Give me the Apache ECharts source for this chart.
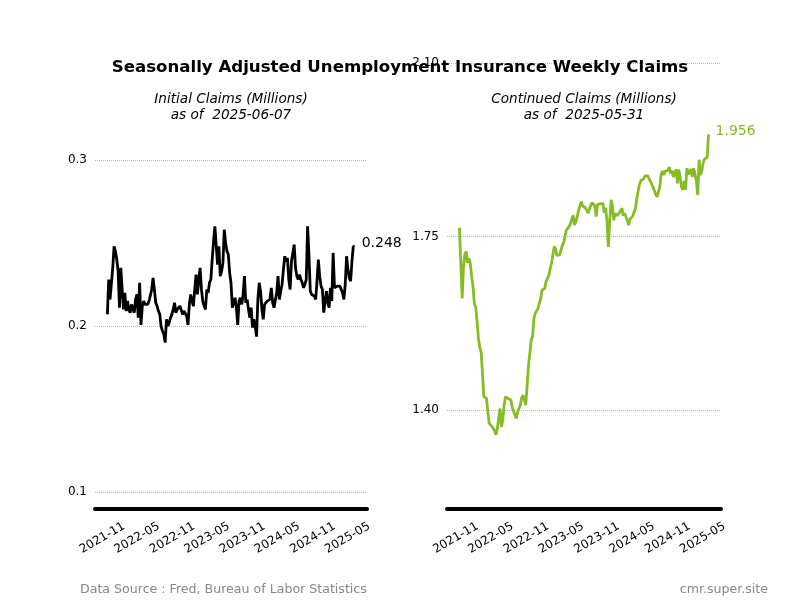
<!DOCTYPE html>
<html>
<head>
<meta charset="utf-8">
<script src="https://cdn.jsdelivr.net/npm/echarts@6/dist/echarts.min.js"></script>
<style>
    html, body { margin: 0; padding: 0; background: #fff; }
    #chart { width: 800px; height: 600px; }
</style>
</head>
<body>
<div id="chart"></div>
<script>
// weekly series
const initStart = '2021-11-27';   // last week 2025-06-07
const contStart = '2021-11-20';   // last week 2025-05-31

const initClaims = [
    0.207, 0.228, 0.216, 0.217, 0.235, 0.248, 0.245, 0.240, 0.233, 0.211,
    0.235, 0.222, 0.210, 0.220, 0.209, 0.215, 0.210, 0.208, 0.213, 0.212,
    0.208, 0.216, 0.219, 0.205, 0.226, 0.2006, 0.212, 0.215, 0.213, 0.214,
    0.213, 0.215, 0.214, 0.222, 0.229, 0.222, 0.214, 0.212, 0.209, 0.207,
    0.1996, 0.197, 0.195, 0.190, 0.204, 0.200, 0.202, 0.205, 0.207, 0.210,
    0.214, 0.208, 0.210, 0.211, 0.212, 0.213, 0.207, 0.209, 0.208, 0.206,
    0.2006, 0.213, 0.219, 0.215, 0.212, 0.222, 0.231, 0.219, 0.228, 0.235,
    0.222, 0.215, 0.212, 0.210, 0.222, 0.220, 0.226, 0.228, 0.240, 0.251,
    0.260, 0.259, 0.237, 0.248, 0.230, 0.233, 0.238, 0.258, 0.250, 0.245,
    0.243, 0.232, 0.226, 0.211, 0.214, 0.217, 0.211, 0.2006, 0.215, 0.217,
    0.213, 0.219, 0.230, 0.214, 0.216, 0.210, 0.205, 0.211, 0.199, 0.204,
    0.200, 0.1936, 0.216, 0.226, 0.221, 0.210, 0.204, 0.213, 0.214, 0.215,
    0.215, 0.216, 0.223, 0.214, 0.211, 0.210, 0.220, 0.230, 0.216, 0.221,
    0.225, 0.234, 0.242, 0.239, 0.241, 0.228, 0.222, 0.239, 0.244, 0.249,
    0.235, 0.230, 0.228, 0.231, 0.228, 0.226, 0.223, 0.225, 0.228, 0.260,
    0.243, 0.221, 0.219, 0.220, 0.218, 0.216, 0.227, 0.240, 0.230, 0.224,
    0.222, 0.208, 0.207, 0.221, 0.214, 0.211, 0.223, 0.215, 0.244, 0.223,
    0.224, 0.224, 0.225, 0.224, 0.223, 0.220, 0.216, 0.225, 0.242, 0.234,
    0.229, 0.227, 0.239, 0.248, 0.248
];

const contClaims = [
    1.768, 1.770, 1.625, 1.689, 1.715, 1.720, 1.697, 1.706, 1.695, 1.670,
    1.650, 1.615, 1.608, 1.580, 1.545, 1.526, 1.518, 1.474, 1.427, 1.425,
    1.423, 1.395, 1.373, 1.372, 1.367, 1.364, 1.358, 1.350, 1.363, 1.360,
    1.403, 1.366, 1.380, 1.410, 1.427, 1.426, 1.423, 1.423, 1.420, 1.405,
    1.401, 1.390, 1.383, 1.397, 1.401, 1.410, 1.425, 1.430, 1.427, 1.410,
    1.450, 1.490, 1.515, 1.541, 1.548, 1.585, 1.595, 1.594, 1.605, 1.602,
    1.625, 1.642, 1.641, 1.645, 1.659, 1.662, 1.672, 1.685, 1.696, 1.694,
    1.730, 1.725, 1.712, 1.710, 1.713, 1.716, 1.732, 1.738, 1.740, 1.763,
    1.760, 1.770, 1.776, 1.778, 1.793, 1.773, 1.780, 1.790, 1.803, 1.807,
    1.820, 1.812, 1.810, 1.808, 1.805, 1.797, 1.805, 1.813, 1.818, 1.818,
    1.812, 1.790, 1.815, 1.819, 1.816, 1.814, 1.817, 1.798, 1.808, 1.780,
    1.729, 1.780, 1.824, 1.812, 1.783, 1.797, 1.792, 1.790, 1.797, 1.793,
    1.807, 1.792, 1.797, 1.795, 1.783, 1.773, 1.785, 1.789, 1.791, 1.795,
    1.807, 1.826, 1.842, 1.855, 1.863, 1.861, 1.866, 1.872, 1.874, 1.873,
    1.867, 1.864, 1.856, 1.849, 1.843, 1.835, 1.830, 1.829, 1.850, 1.876,
    1.882, 1.874, 1.882, 1.880, 1.883, 1.890, 1.877, 1.883, 1.870, 1.868,
    1.886, 1.857, 1.885, 1.870, 1.850, 1.844, 1.862, 1.844, 1.888, 1.875,
    1.878, 1.886, 1.870, 1.888, 1.875, 1.862, 1.834, 1.905, 1.874, 1.882,
    1.898, 1.906, 1.908, 1.910, 1.956
];

const xTickLabels = ['2021-11', '2022-05', '2022-11', '2023-05', '2023-11', '2024-05', '2024-11', '2025-05'];
const initYTicks = [0.1, 0.2, 0.3];
const contYTicks = [1.40, 1.75, 2.10];

const FONT = 'DejaVu Sans';
const DAY = 864e5;

function utc(s) {
    const p = s.split('-').map(Number);
    return Date.UTC(p[0], p[1] - 1, p[2] || 1);
}
function weekly(start, vals) {
    const t0 = utc(start);
    return vals.map((v, i) => [t0 + i * 7 * DAY, v]);
}
function fmtMonth(t) {
    const d = new Date(t);
    const m = d.getUTCMonth() + 1;
    return d.getUTCFullYear() + '-' + (m < 10 ? '0' + m : m);
}

const initData = weekly(initStart, initClaims);
const contData = weekly(contStart, contClaims);
const xTicks = xTickLabels.map(utc);

function xRange(data) {
    const a = data[0][0], b = data[data.length - 1][0];
    const pad = (b - a) * 0.05;
    return [a - pad, b + pad];
}

function xAxisOf(gridIndex, data) {
    const r = xRange(data);
    return {
        type: 'value',
        gridIndex: gridIndex,
        min: r[0],
        max: r[1],
        axisLine: { show: true, lineStyle: { color: '#000', width: 4 } },
        axisTick: { show: false, customValues: xTicks },
        splitLine: { show: false },
        axisLabel: {
            customValues: xTicks,
            formatter: fmtMonth,
            rotate: 30,
            align: 'center',
            verticalAlign: 'middle',
            margin: 29,
            color: '#000',
            fontSize: 12,
            fontFamily: FONT
        }
    };
}

function yAxisOf(gridIndex, min, max, ticks, digits) {
    return {
        type: 'value',
        gridIndex: gridIndex,
        min: min,
        max: max,
        axisLine: { show: false },
        axisTick: { show: false, customValues: ticks },
        splitLine: { show: true, lineStyle: { color: '#b8b8b8', type: 'dotted', width: 1 } },
        axisLabel: {
            customValues: ticks,
            formatter: v => v.toFixed(digits),
            color: '#000',
            fontSize: 12,
            fontFamily: FONT,
            margin: 8
        }
    };
}

const chart = echarts.init(document.getElementById('chart'));
const option = {
    animation: false,
    backgroundColor: '#fff',
    title: [
        {
            text: 'Seasonally Adjusted Unemployment Insurance Weekly Claims',
            left: 'center',
            top: 54,
            textStyle: { fontFamily: FONT, fontSize: 16.6, fontWeight: 'bold', color: '#000' }
        },
        {
            text: 'Initial Claims (Millions)\nas of  2025-06-07',
            left: 226,
            top: 86,
            textAlign: 'center',
            textStyle: { fontFamily: FONT, fontSize: 13.6, fontStyle: 'italic', fontWeight: 'normal', color: '#000', lineHeight: 16 }
        },
        {
            text: 'Continued Claims (Millions)\nas of  2025-05-31',
            left: 579,
            top: 86,
            textAlign: 'center',
            textStyle: { fontFamily: FONT, fontSize: 13.6, fontStyle: 'italic', fontWeight: 'normal', color: '#000', lineHeight: 16 }
        },
        {
            text: 'Data Source : Fred, Bureau of Labor Statistics',
            left: 75,
            top: 578,
            textStyle: { fontFamily: FONT, fontSize: 12.6, fontWeight: 'normal', color: '#888' }
        },
        {
            text: 'cmr.super.site',
            right: 27,
            top: 578,
            textStyle: { fontFamily: FONT, fontSize: 12.6, fontWeight: 'normal', color: '#888' }
        }
    ],
    grid: [
        { left: 95, width: 272, top: 63, height: 446 },
        { left: 447, width: 274, top: 63, height: 446 }
    ],
    xAxis: [xAxisOf(0, initData), xAxisOf(1, contData)],
    yAxis: [
        yAxisOf(0, 0.08976, 0.3584, initYTicks, 1),
        yAxisOf(1, 1.2003, 2.10, contYTicks, 2)
    ],
    series: [
        {
            type: 'line',
            xAxisIndex: 0,
            yAxisIndex: 0,
            data: initData,
            showSymbol: false,
            lineStyle: { color: '#000', width: 2.8 },
            itemStyle: { color: '#000' },
            endLabel: {
                show: true,
                formatter: p => p.value[1].toFixed(3),
                color: '#000',
                fontSize: 14,
                fontFamily: FONT,
                distance: 7,
                offset: [0, -3]
            }
        },
        {
            type: 'line',
            xAxisIndex: 1,
            yAxisIndex: 1,
            data: contData,
            showSymbol: false,
            lineStyle: { color: '#86bc25', width: 2.8 },
            itemStyle: { color: '#86bc25' },
            endLabel: {
                show: true,
                formatter: p => p.value[1].toFixed(3),
                color: '#86bc25',
                fontSize: 14,
                fontFamily: FONT,
                distance: 7,
                offset: [0, -3]
            }
        }
    ]
};
chart.setOption(option);
</script>
</body>
</html>
